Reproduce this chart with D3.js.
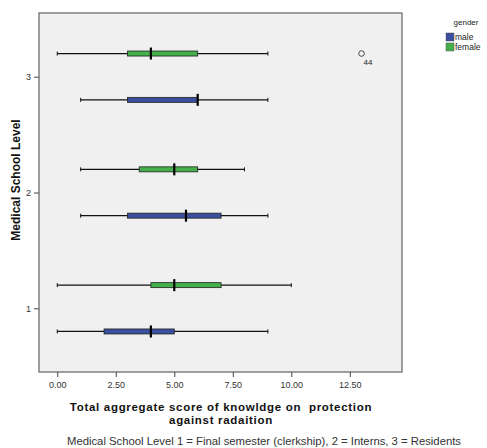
<!DOCTYPE html>
<html><head><meta charset="utf-8">
<script src="https://cdn.jsdelivr.net/npm/d3@7"></script>
<style>body{margin:0;background:#fff;font-family:Arial,"Liberation Sans",sans-serif}</style>
</head><body><svg id="c" width="487" height="448"></svg>
<script>
const levels = [1, 2, 3];
const genders = ["male", "female"];
const colors = {male: "#3b4f9f", female: "#45b04b"};
// [whiskerLow, q1, median, q3, whiskerHigh] per level 1,2,3
const maleStats = [
  [0, 2, 4, 5, 9],
  [1, 3, 5.5, 7, 9],
  [1, 3, 6, 6, 9]
];
const femaleStats = [
  [0, 4, 5, 7, 10],
  [1, 3.5, 5, 6, 8],
  [0, 3, 4, 6, 9]
];
const outliers = [{level: 3, gender: "female", value: 13, label: "44"}];
const xTicks = [0, 2.5, 5, 7.5, 10, 12.5];

const FONT = "Arial, 'Liberation Sans', sans-serif";
const svg = d3.select("#c");
const L = 39, R = 402, T = 13, B = 372;
const x = d3.scaleLinear().domain([-0.78, 14.73]).range([L, R]);
const y = d3.scaleLinear().domain([0.45, 3.55]).range([B, T]);
const off = {female: 0.2, male: -0.2};

svg.append("rect").attr("x", L).attr("y", T).attr("width", R - L).attr("height", B - T)
  .attr("fill", "#f0f0f0").attr("stroke", "#6e6e6e").attr("stroke-width", 1.3);

const xa = svg.append("g").attr("transform", `translate(0,${B})`)
  .call(d3.axisBottom(x).tickValues(xTicks).tickFormat(d3.format(".2f")).tickSize(5).tickSizeOuter(0));
xa.select(".domain").remove();
xa.selectAll("line").attr("stroke", "#444");
xa.selectAll("text").attr("font-size", 9).attr("fill", "#333").attr("dy", "0.9em").attr("font-family", FONT);

const ya = svg.append("g").attr("transform", `translate(${L},0)`)
  .call(d3.axisLeft(y).tickValues(levels).tickFormat(d3.format("d")).tickSize(5).tickSizeOuter(0));
ya.select(".domain").remove();
ya.selectAll("line").attr("stroke", "#444");
ya.selectAll("text").attr("font-size", 9).attr("fill", "#333").attr("font-family", FONT);

const rows = [];
maleStats.forEach((s, i) => rows.push({level: levels[i], gender: "male", s}));
femaleStats.forEach((s, i) => rows.push({level: levels[i], gender: "female", s}));

const g = svg.append("g");
rows.forEach(r => {
  const cy = y(r.level + off[r.gender]);
  const [lo, q1, med, q3, hi] = r.s;
  g.append("line").attr("x1", x(lo)).attr("x2", x(hi)).attr("y1", cy).attr("y2", cy)
    .attr("stroke", "#111").attr("stroke-width", 1.2);
  [lo, hi].forEach(v => g.append("line").attr("x1", x(v)).attr("x2", x(v)).attr("y1", cy - 2).attr("y2", cy + 2)
    .attr("stroke", "#111").attr("stroke-width", 1));
  g.append("rect").attr("x", x(q1)).attr("y", cy - 2.5).attr("width", x(q3) - x(q1)).attr("height", 5)
    .attr("fill", colors[r.gender]).attr("stroke", "#222").attr("stroke-width", 0.8);
  g.append("line").attr("x1", x(med)).attr("x2", x(med)).attr("y1", cy - 6).attr("y2", cy + 6)
    .attr("stroke", "#000").attr("stroke-width", 2.2);
});

outliers.forEach(o => {
  const cy = y(o.level + off[o.gender]);
  g.append("circle").attr("cx", x(o.value)).attr("cy", cy).attr("r", 2.8)
    .attr("fill", "none").attr("stroke", "#333").attr("stroke-width", 0.9);
  g.append("text").attr("x", x(o.value) + 2).attr("y", cy + 11).attr("font-size", 8).attr("fill", "#222")
    .attr("font-family", FONT).text(o.label);
});

// axis titles
svg.append("text").attr("x", 221).attr("y", 411).attr("text-anchor", "middle")
  .attr("font-size", 11.5).attr("letter-spacing", 0.7).attr("font-weight", "bold").attr("fill", "#111").attr("font-family", FONT)
  .style("white-space", "pre").text("Total aggregate score of knowldge on  protection");
svg.append("text").attr("x", 221).attr("y", 423.5).attr("text-anchor", "middle")
  .attr("font-size", 11.5).attr("letter-spacing", 0.7).attr("font-weight", "bold").attr("fill", "#111").attr("font-family", FONT)
  .text("against radaition");
svg.append("text").attr("transform", "translate(20,180) rotate(-90)").attr("text-anchor", "middle")
  .attr("font-size", 12).attr("font-weight", "bold").attr("fill", "#111").attr("font-family", FONT)
  .text("Medical School Level");
svg.append("text").attr("x", 264).attr("y", 445).attr("text-anchor", "middle")
  .attr("font-size", 11.3).attr("fill", "#333").attr("font-family", FONT)
  .text("Medical School Level 1 = Final semester (clerkship), 2 = Interns, 3 = Residents");

// legend
const lg = svg.append("g");
lg.append("text").attr("x", 466).attr("y", 25).attr("text-anchor", "middle").attr("font-size", 8)
  .attr("fill", "#222").attr("font-family", FONT).text("gender");
genders.forEach((gd, i) => {
  lg.append("rect").attr("x", 446).attr("y", 33 + i * 10).attr("width", 8).attr("height", 8)
    .attr("fill", colors[gd]).attr("stroke", "#555").attr("stroke-width", 0.5);
  lg.append("text").attr("x", 455).attr("y", 40 + i * 10).attr("font-size", 8.5).attr("fill", "#222")
    .attr("font-family", FONT).text(gd);
});
</script></body></html>
